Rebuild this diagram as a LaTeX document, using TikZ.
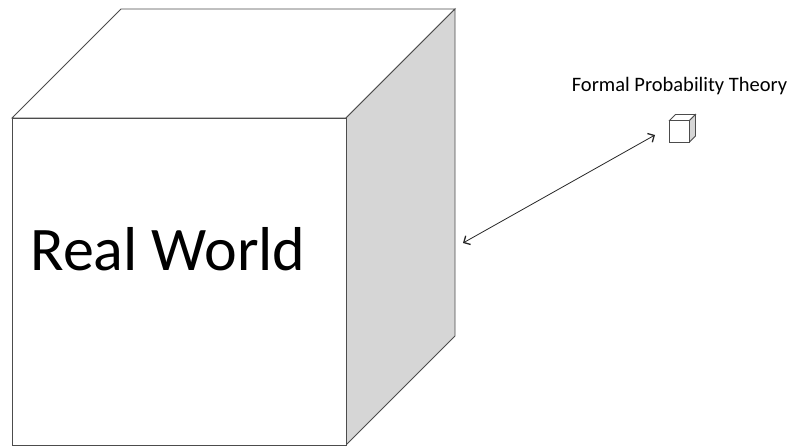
\documentclass[tikz,border=0pt]{standalone}
\usepackage{fontspec}
\setmainfont{Carlito}
\usetikzlibrary{arrows.meta}
\tikzset{
  edge/.style={draw=black!70, line width=0.9pt, line join=miter},
  sideface/.style={edge, fill=black!16},
  frontface/.style={edge, fill=white},
  link/.style={draw=black!85, line width=0.8pt, {Straight Barb[length=5pt,width=10pt,line width=1.3pt]}-{Straight Barb[length=5pt,width=10pt,line width=1.3pt]}}
}
\begin{document}
\begin{tikzpicture}[x=1pt,y=-1pt]
\useasboundingbox (0,0) rectangle (790,447);
% big cube
\coordinate (A) at (12,118);
\coordinate (B) at (346,118);
\coordinate (C) at (346,445);
\coordinate (D) at (12,445);
\coordinate (A2) at (121,9);
\coordinate (B2) at (455,9);
\coordinate (C2) at (455,336);
\draw[frontface] (A) -- (A2) -- (B2) -- (B) -- cycle;
\draw[sideface] (B) -- (B2) -- (C2) -- (C) -- cycle;
\draw[frontface] (A) rectangle (C);
\node[anchor=base, font=\fontsize{62}{64}\selectfont, inner sep=0pt] (rw) at (168,270) {Real World};
% small cube
\coordinate (a) at (669.5,120.5);
\coordinate (b) at (689.5,120.5);
\coordinate (c) at (689.5,142);
\coordinate (d) at (669.5,142);
\coordinate (a2) at (675.5,114.5);
\coordinate (b2) at (695.5,114.5);
\coordinate (c2) at (695.5,136);
\draw[frontface, line width=0.8pt] (a) -- (a2) -- (b2) -- (b) -- cycle;
\draw[sideface, line width=0.8pt] (b) -- (b2) -- (c2) -- (c) -- cycle;
\draw[frontface, line width=0.8pt] (a) rectangle (c);
\node[anchor=base, font=\fontsize{20.5}{22}\selectfont, inner sep=0pt] (fpt) at (679.5,91.5) {Formal Probability Theory};
% arrow
\coordinate (p) at (463,243);
\coordinate (q) at (655,135);
\draw[link] (p) -- (q);
\end{tikzpicture}
\end{document}
